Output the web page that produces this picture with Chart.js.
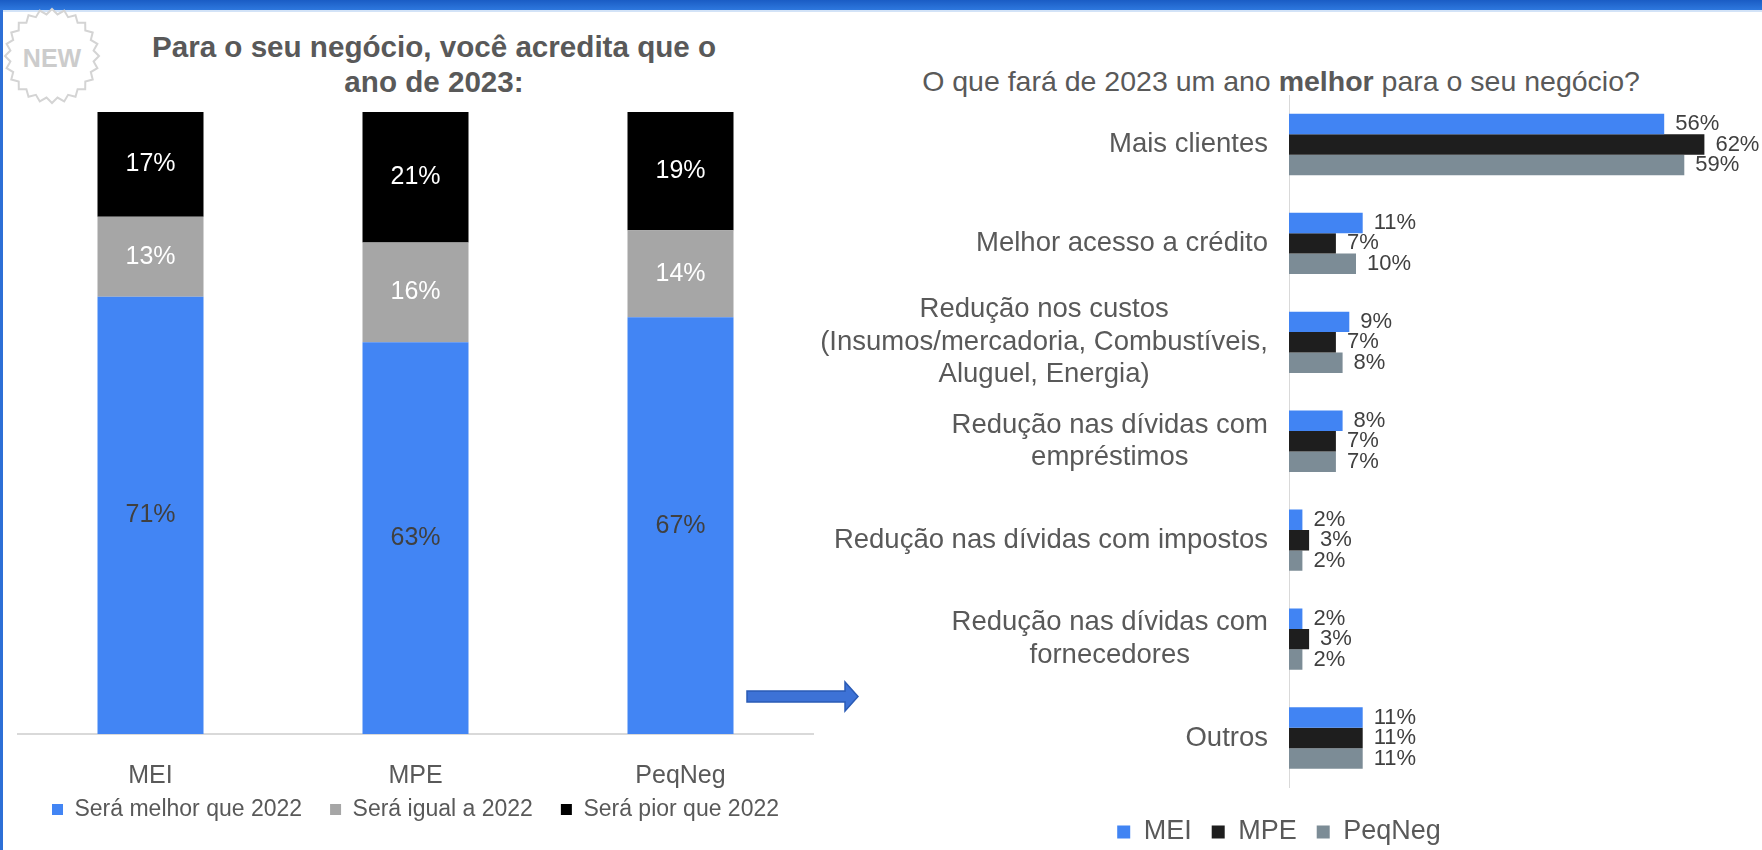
<!DOCTYPE html>
<html lang="pt-BR">
<head>
  <meta charset="UTF-8" />
  <title>Expectativas para 2023</title>
  <script src="https://cdn.jsdelivr.net/npm/chart.js"></script>
  <style>
    html, body { margin: 0; padding: 0; background: #fff; }
    body { width: 1762px; height: 850px; position: relative; overflow: hidden; font-family: "Liberation Sans", Arial, sans-serif; }
    .topbar { position: absolute; left: 0; top: 0; width: 1762px; height: 10px; background: linear-gradient(#1a5cc4, #2e78de); border-bottom: 2px solid #d3e3f7; }
    .leftbar { position: absolute; left: 0; top: 10px; width: 3px; height: 840px; background: #2d6fd6; }
    #badge { position: absolute; left: 2px; top: 6px; }
    #leftTitle { position: absolute; left: 119px; width: 630px; top: 29px; text-align: center; font-weight: bold; font-size: 29.6px; line-height: 35px; color: #595959; }
    #rightTitle { position: absolute; left: 861px; width: 840px; top: 65px; text-align: center; font-size: 28.5px; line-height: 32px; color: #595959; }
    #arrow { position: absolute; left: 745px; top: 680px; }
    #leftChart { position: absolute; left: 0; top: 0; }
    #rightChart { position: absolute; left: 800px; top: 0; }
  </style>
</head>
<body>
  <div class="topbar"></div>
  <div class="leftbar"></div>

  <svg id="badge" width="104" height="104" viewBox="0 0 104 104">
    <polygon id="star" fill="#fff" stroke="#d4d4d4" stroke-width="2"></polygon>
    <text x="50" y="52" text-anchor="middle" dominant-baseline="central" font-family="Liberation Sans, Arial" font-weight="bold" font-size="25" fill="#cccccc">NEW</text>
  </svg>

  <div id="leftTitle">Para o seu negócio, você acredita que o<br>ano de 2023:</div>
  <div id="rightTitle">O que fará de 2023 um ano <b>melhor</b> para o seu negócio?</div>

  <canvas id="leftChart" width="860" height="850"></canvas>
  <canvas id="rightChart" width="962" height="856"></canvas>

  <svg id="arrow" width="118" height="36" viewBox="0 0 118 36">
    <polygon points="2,11 100,11 100,2 113,16.5 100,31 100,22 2,22" fill="#3d72d6" stroke="#2a5bb5" stroke-width="1.5"></polygon>
  </svg>

  <script>
    // left chart: expectation for 2023
    const groups = ['MEI', 'MPE', 'PeqNeg'];
    const melhor = [71, 63, 67];
    const igual = [13, 16, 14];
    const pior = [17, 21, 19];

    // right chart: what will make 2023 better
    const reasons = [
      ['Mais clientes'],
      ['Melhor acesso a crédito'],
      ['Redução nos custos', '(Insumos/mercadoria, Combustíveis,', 'Aluguel, Energia)'],
      ['Redução nas dívidas com', 'empréstimos'],
      ['Redução nas dívidas com impostos'],
      ['Redução nas dívidas com', 'fornecedores'],
      ['Outros']
    ];
    const mei = [56, 11, 9, 8, 2, 2, 11];
    const mpe = [62, 7, 7, 7, 3, 3, 11];
    const peqneg = [59, 10, 8, 7, 2, 2, 11];

    Chart.defaults.font.family = '"Liberation Sans", Arial, sans-serif';
    Chart.defaults.color = '#595959';

    // starburst badge
    const pts = [];
    for (let i = 0; i < 48; i++) {
      const r = i % 2 ? 42 : 47;
      const a = Math.PI * i / 24 - Math.PI / 2;
      pts.push((50 + r * Math.cos(a)).toFixed(1) + ',' + (50 + r * Math.sin(a)).toFixed(1));
    }
    document.getElementById('star').setAttribute('points', pts.join(' '));

    // 100% stacked: each column is scaled to its own total
    const totals = groups.map((_, i) => melhor[i] + igual[i] + pior[i]);
    const share = arr => arr.map((v, i) => v / totals[i] * 100);

    const stackLabels = {
      id: 'stackLabels',
      afterDatasetsDraw(chart) {
        const ctx = chart.ctx;
        ctx.save();
        ctx.font = '25px "Liberation Sans", Arial, sans-serif';
        ctx.textAlign = 'center';
        ctx.textBaseline = 'middle';
        chart.data.datasets.forEach((ds, d) => {
          chart.getDatasetMeta(d).data.forEach((bar, i) => {
            ctx.fillStyle = ds.labelColor;
            ctx.fillText(ds.raw[i] + '%', bar.x, (bar.y + bar.base) / 2);
          });
        });
        // category names under the axis
        const xs = chart.scales.x;
        ctx.fillStyle = '#595959';
        chart.data.labels.forEach((l, i) => {
          ctx.fillText(l, xs.getPixelForTick(i), chart.chartArea.bottom + 42);
        });
        ctx.restore();
      }
    };

    new Chart(document.getElementById('leftChart'), {
      type: 'bar',
      data: {
        labels: groups,
        datasets: [
          { label: 'Será melhor que 2022', data: share(melhor), raw: melhor, backgroundColor: '#4285F4', labelColor: '#404040' },
          { label: 'Será igual a 2022', data: share(igual), raw: igual, backgroundColor: '#A6A6A6', labelColor: '#ffffff' },
          { label: 'Será pior que 2022', data: share(pior), raw: pior, backgroundColor: '#000000', labelColor: '#ffffff' }
        ]
      },
      options: {
        responsive: false,
        animation: false,
        datasets: { bar: { categoryPercentage: 0.8, barPercentage: 0.5 } },
        layout: { padding: { left: 18, right: 47, top: 112, bottom: 19 } },
        plugins: {
          legend: {
            position: 'bottom',
            labels: { boxWidth: 11, boxHeight: 11, padding: 28, font: { size: 23 }, color: '#595959' }
          },
          tooltip: { enabled: false }
        },
        scales: {
          x: {
            stacked: true,
            grid: { display: false, drawTicks: false },
            border: { color: '#d9d9d9', width: 2 },
            ticks: { display: false },
            afterFit: s => { s.height = 36; }
          },
          y: { stacked: true, display: false, min: 0, max: 100 }
        }
      },
      plugins: [stackLabels]
    });

    const barLabels = {
      id: 'barLabels',
      afterDatasetsDraw(chart) {
        const ctx = chart.ctx;
        ctx.save();
        ctx.font = '22px "Liberation Sans", Arial, sans-serif';
        ctx.fillStyle = '#404040';
        ctx.textAlign = 'left';
        ctx.textBaseline = 'middle';
        chart.data.datasets.forEach((ds, d) => {
          chart.getDatasetMeta(d).data.forEach((bar, i) => {
            ctx.fillText(ds.data[i] + '%', bar.x + 11, bar.y);
          });
        });
        ctx.restore();
      }
    };

    // category names: block right-aligned to the axis, lines centred inside the block
    const catLabels = {
      id: 'catLabels',
      afterDraw(chart) {
        const ctx = chart.ctx;
        const scale = chart.scales.y;
        const lh = 32.5;
        ctx.save();
        ctx.font = '27.5px "Liberation Sans", Arial, sans-serif';
        ctx.fillStyle = '#595959';
        ctx.textAlign = 'center';
        ctx.textBaseline = 'middle';
        chart.data.labels.forEach((lines, i) => {
          const w = Math.max(...lines.map(l => ctx.measureText(l).width));
          const cx = scale.right - 21 - w / 2;
          const cy = scale.getPixelForTick(i);
          lines.forEach((l, j) => ctx.fillText(l, cx, cy + (j - (lines.length - 1) / 2) * lh));
        });
        ctx.restore();
      }
    };

    new Chart(document.getElementById('rightChart'), {
      type: 'bar',
      data: {
        labels: reasons,
        datasets: [
          { label: 'MEI', data: mei, backgroundColor: '#4184F3' },
          { label: 'MPE', data: mpe, backgroundColor: '#1E1E1E' },
          { label: 'PeqNeg', data: peqneg, backgroundColor: '#7C8C96' }
        ]
      },
      options: {
        indexAxis: 'y',
        responsive: false,
        animation: false,
        datasets: { bar: { categoryPercentage: 0.62, barPercentage: 1.0 } },
        layout: { padding: { left: 0, right: 4, top: 95, bottom: 0.5 } },
        plugins: {
          legend: {
            position: 'bottom',
            labels: { boxWidth: 13, boxHeight: 13, padding: 20, font: { size: 27 }, color: '#595959' }
          },
          tooltip: { enabled: false }
        },
        scales: {
          x: {
            min: 0, max: 70,
            grid: { display: false, drawTicks: false },
            border: { display: false },
            ticks: { display: false },
            afterFit: s => { s.height = 11; }
          },
          y: {
            grid: { display: false, drawTicks: false },
            border: { color: '#d9d9d9', width: 1 },
            ticks: { display: false },
            afterFit: s => { s.width = 489; }
          }
        }
      },
      plugins: [barLabels, catLabels]
    });
  </script>
</body>
</html>
